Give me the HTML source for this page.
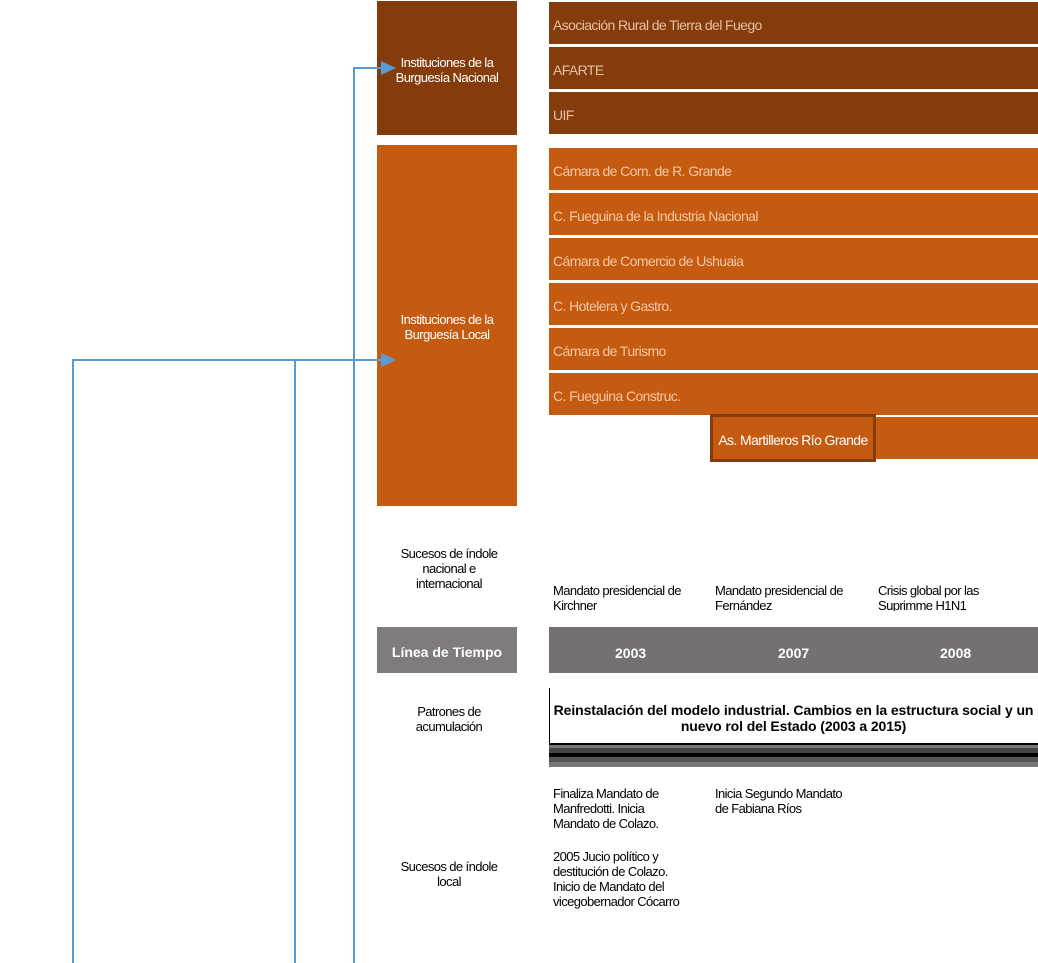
<!DOCTYPE html>
<html><head><meta charset="utf-8"><style>
body{margin:0;width:1038px;height:963px;background:#fff;position:relative;overflow:hidden;font-family:"Liberation Sans",sans-serif;letter-spacing:-0.6px}
div{position:absolute;box-sizing:border-box}
.b{background:#c55a11;color:#f4c7a4;font-size:14px;padding-left:4px;line-height:46px;height:42px;left:549px;width:489px}
.n{background:#843c0c;color:#e8c0a0;font-size:14px;padding-left:4px;line-height:46px;height:42px;left:549px;width:489px}
.lbl{color:#fff;font-size:13px;text-align:center;display:flex;align-items:center;justify-content:center;line-height:15px}
.t{font-size:13px;color:#000;line-height:15px}
</style></head><body>
<div class="lbl" style="left:377px;top:1px;width:140px;height:134px;background:#843c0c;padding-top:3px">Instituciones de la<br>Burguesía Nacional</div>
<div class="n" style="top:2px">Asociación Rural de Tierra del Fuego</div>
<div class="n" style="top:47px">AFARTE</div>
<div class="n" style="top:92px">UIF</div>
<div class="lbl" style="left:377px;top:145px;width:140px;height:361px;background:#c55a11;padding-top:2px">Instituciones de la<br>Burguesía Local</div>
<div class="b" style="top:148px">Cámara de Com. de R. Grande</div>
<div class="b" style="top:193px">C. Fueguina de la Industria Nacional</div>
<div class="b" style="top:238px">Cámara de Comercio de Ushuaia</div>
<div class="b" style="top:283px">C. Hotelera y Gastro.</div>
<div class="b" style="top:328px">Cámara de Turismo</div>
<div class="b" style="top:373px">C. Fueguina Construc.</div>
<div style="left:710px;top:417px;width:328px;height:42px;background:#c55a11"></div>
<div style="left:710px;top:414px;width:166px;height:48px;background:#c55a11;border:3px solid #843c0c;color:#fff;font-size:14px;line-height:47px;text-align:center">As. Martilleros Río Grande</div>
<div class="t" style="left:377px;top:546px;width:144px;text-align:center">Sucesos de índole<br>nacional e<br>internacional</div>
<div style="left:549px;top:583px;width:489px;height:28px;overflow:hidden">
<div class="t" style="left:4px;top:0">Mandato presidencial de<br>Kirchner</div>
<div class="t" style="left:166px;top:0">Mandato presidencial de<br>Fernández</div>
<div class="t" style="left:329px;top:0">Crisis global por las<br>Suprimme H1N1</div></div>
<div style="left:377px;top:627px;width:140px;height:46px;background:#807c7b;color:#fff;font-weight:bold;font-size:14px;line-height:50px;text-align:center;letter-spacing:0">Línea de Tiempo</div>
<div style="left:549px;top:627px;width:489px;height:46px;background:#767171;color:#fff;font-weight:bold;font-size:14px;line-height:52px;letter-spacing:0">
<span style="position:absolute;left:66px">2003</span><span style="position:absolute;left:229px">2007</span><span style="position:absolute;left:391px">2008</span></div>
<div class="t" style="left:377px;top:704px;width:144px;text-align:center">Patrones de<br>acumulación</div>
<div style="left:549px;top:688px;width:1px;height:57px;background:#000"></div>
<div style="left:549px;top:702px;width:489px;text-align:center;font-weight:bold;font-size:14px;line-height:16px;letter-spacing:-0.1px">Reinstalación del modelo industrial. Cambios en la estructura social y un nuevo rol del Estado (2003 a 2015)</div>
<div style="left:549px;top:743px;width:489px;height:2px;background:#000"></div>
<div style="left:549px;top:745px;width:489px;height:3px;background:#777"></div>
<div style="left:549px;top:748px;width:489px;height:5px;background:#444"></div>
<div style="left:549px;top:753px;width:489px;height:4px;background:#000"></div>
<div style="left:549px;top:757px;width:489px;height:5px;background:#555"></div>
<div style="left:549px;top:762px;width:489px;height:5px;background:#777"></div>
<div class="t" style="left:553px;top:786px">Finaliza Mandato de<br>Manfredotti. Inicia<br>Mandato de Colazo.</div>
<div class="t" style="left:715px;top:786px">Inicia Segundo Mandato<br>de Fabiana Ríos</div>
<div class="t" style="left:553px;top:849px">2005 Jucio político y<br>destitución de Colazo.<br>Inicio de Mandato del<br>vicegobernador Cócarro</div>
<div class="t" style="left:377px;top:859px;width:144px;text-align:center">Sucesos de índole<br>local</div>
<svg style="position:absolute;left:0;top:0" width="1038" height="963">
<g stroke="#5b9bd5" stroke-width="2" fill="none">
<path d="M73 963V360H383"/><path d="M295 963V360"/><path d="M354 963V68H383"/></g>
<g fill="#5b9bd5"><path d="M381 61L396 68L381 75Z"/><path d="M381 353L396 360L381 367Z"/></g>
</svg>
</body></html>
